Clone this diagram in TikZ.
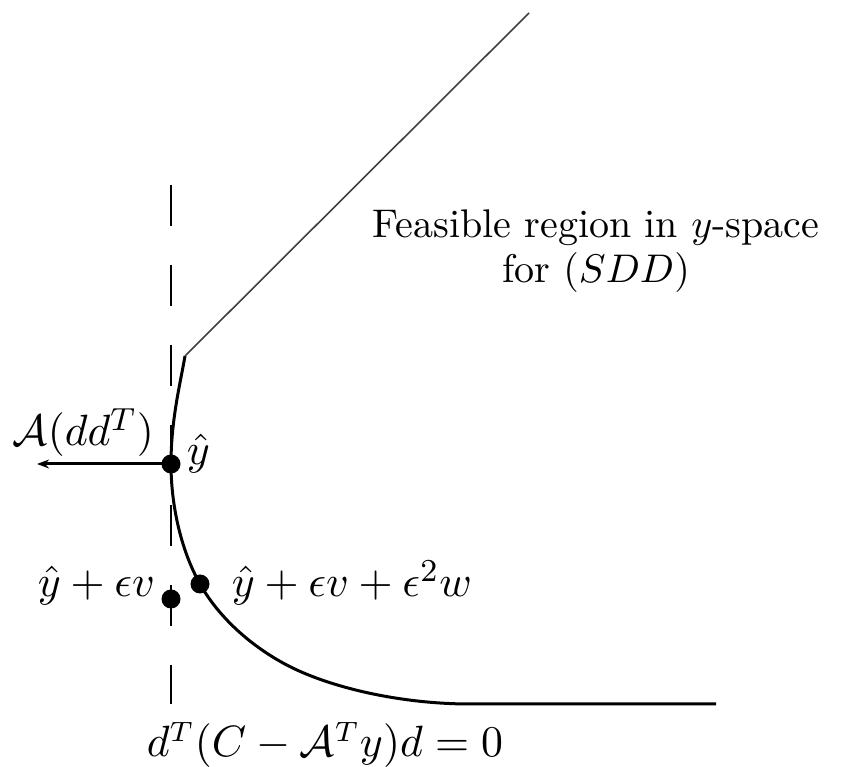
\documentclass[tikz,border=0pt]{standalone}
\usetikzlibrary{arrows.meta}
\begin{document}
\begin{tikzpicture}[x=0.25pt,y=-0.25pt,
  curve/.style={line width=0.75pt},
  thinline/.style={line width=0.4pt, black!75},
  dashline/.style={line width=0.6pt, dash pattern=on 10.25pt off 9.75pt},
  dot/.style={circle, fill=black, inner sep=0pt, minimum size=4.75pt},
  mlbl/.style={inner sep=0pt, font=\fontsize{11}{13}\selectfont},
  blbl/.style={inner sep=0pt, font=\fontsize{10.5}{12.5}\selectfont},
  tlbl/.style={inner sep=0pt, align=center, font=\fontsize{10}{11.25}\selectfont}]
\useasboundingbox (0,0) rectangle (844,767);
% key points
\coordinate (dtop) at (171,185);
\coordinate (dbot) at (171,704);
\coordinate (kink) at (185,356);
\coordinate (top) at (529,13);
\coordinate (flat) at (470,704);
\coordinate (endr) at (716,704);
\coordinate (arrowend) at (37,464);
\coordinate (pE) at (283,663);
% dashed line
\draw[dashline] (dtop) -- (dbot);
% boundary of feasible region
\draw[curve] (171,464) .. controls (171,420) and (180,385) .. (kink);
\draw[thinline] (kink) -- (top);
\draw[curve] (171,464) .. controls (171,504) and (180.4,549.2) .. (200,584)
  .. controls (218.6,617.1) and (249.7,644.6) .. (pE)
  .. controls (326.8,687.2) and (400,704) .. (flat) -- (endr);
% points
\node[dot] (yhat) at (171,464) {};
\node[dot] (yev) at (171,599) {};
\node[dot] (yevw) at (200,584) {};
% arrow
\draw[curve, -{Stealth[length=3pt,width=2.2pt]}] (yhat.center) -- (arrowend);
% labels
\node[mlbl, anchor=base west] (lA) at (12,446) {$\mathcal{A}(dd^T)$};
\node[mlbl, anchor=base west] (lyhat) at (186,465) {$\hat{y}$};
\node[mlbl, anchor=base west] (lyev) at (37,597) {$\hat{y}+\epsilon v$};
\node[mlbl, anchor=base west] (lyevw) at (231,597) {$\hat{y}+\epsilon v+\epsilon^2 w$};
\node[blbl, anchor=base west] (lcon) at (146,757) {$d^T(C-\mathcal{A}^T y)d=0$};
\node[tlbl, anchor=base] (lfeas) at (596,283) {Feasible region in $y$-space\\for $(SDD)$};
\end{tikzpicture}
\end{document}
